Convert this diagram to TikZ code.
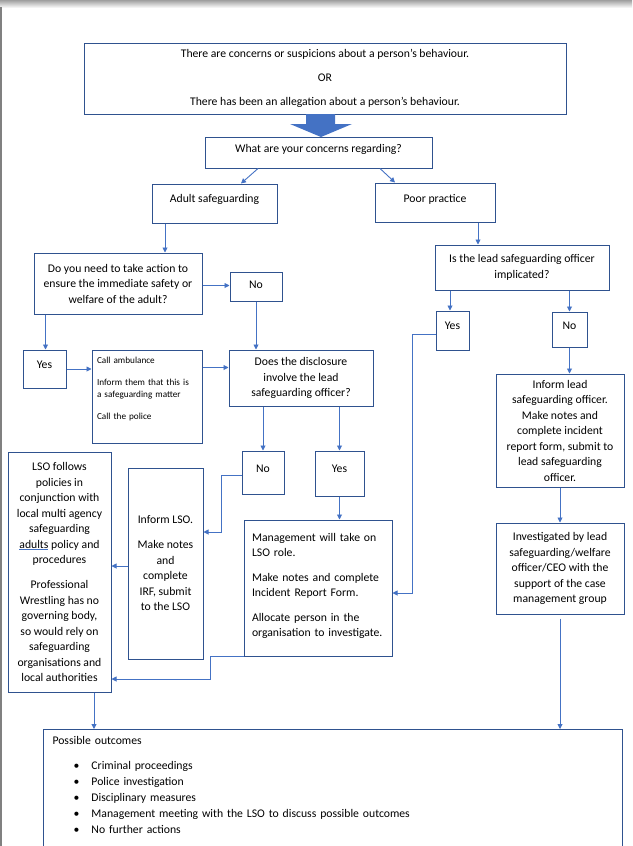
\documentclass[tikz,border=0pt]{standalone}
\usepackage{fontspec}
\setmainfont{Carlito}
\usepackage{xcolor}
\usetikzlibrary{arrows.meta,positioning}

\definecolor{boxblue}{HTML}{2F528F}
\definecolor{arrowblue}{HTML}{4472C4}
\newcommand{\outitem}[1]{\hspace*{21pt}\makebox[18pt][l]{\textbullet}#1}
\newcommand{\checkword}[1]{{\color{arrowblue}\underline{\color{black}#1}}}

\begin{document}
\begin{tikzpicture}[
  x=1pt, y=-1pt,
  font=\fontsize{11.7}{15.5}\selectfont,
  box/.style={draw=boxblue, line width=1pt, align=center, inner sep=0pt},
  tline/.style 2 args={box, text height=#1, text depth=#2},
  small/.style={font=\fontsize{9.2}{12}\selectfont},
  arrow/.style={-{Triangle[length=5pt, width=5pt]}, arrowblue, line width=0.9pt}
]
  \clip (0,0) rectangle (632,846);
  % page edge
  \shade[top color=gray!75, bottom color=white] (0,0) rectangle (632,8);
  \draw[gray, line width=1.5pt] (1,7) -- (1,846);

  % top of the chart
  \node[box, minimum width=482pt, minimum height=71pt] (event) at (325,78.5)
    {There are concerns or suspicions about a person’s behaviour.\\[8.5pt]
     OR\\[8.5pt]
     There has been an allegation about a person’s behaviour.};
  \fill[arrowblue] (306,114) -- (335,114) -- (335,124) -- (352,124) -- (321,137)
    -- (290,124) -- (306,124) -- cycle;
  \node[tline={15pt}{16pt}, minimum width=227pt] (concerns) at (318.5,152.5) {What are your concerns regarding?};

  % adult safeguarding branch
  \node[tline={18pt}{21pt}, minimum width=125pt] (adult) at (214.5,203.5) {Adult safeguarding};
  \node[box, minimum width=168pt, minimum height=61pt] (action) at (118,283.5)
    {Do you need to take action to\\ ensure the immediate safety or\\ welfare of the adult?};
  \node[tline={16pt}{13pt}, minimum width=52pt] (actno) at (256,286.5) {No};
  \node[tline={18pt}{20pt}, minimum width=43pt] (actyes) at (44.5,369) {Yes};
  \node[box, small, align=left, text width=100pt, inner xsep=5pt, text height=13.5pt, text depth=79.5pt] (call) at (147,396.5)
    {Call ambulance\\[10pt] Inform them that this is\\ a safeguarding matter\\[10pt] Call the police};
  \node[box, minimum width=144pt, minimum height=56pt] (disclose) at (301,378)
    {Does the disclosure\\ involve the lead\\ safeguarding officer?};
  \node[tline={21pt}{22pt}, minimum width=42pt] (discno) at (263,472.5) {No};
  \node[tline={21pt}{24pt}, minimum width=49pt] (discyes) at (339.5,473.5) {Yes};
  \node[box, align=left, text width=132pt, inner xsep=8pt, text height=21pt, text depth=115pt] (mgmt) at (318,588)
    {Management will take on\\ LSO role.\\[9pt] Make notes and complete\\ Incident Report Form.\\[9pt]
     Allocate person in the\\ organisation to investigate.};
  \node[box, minimum width=75pt, minimum height=191pt] (irf) at (165.5,563.5)
    {Inform LSO.\\[9.5pt] Make notes\\ and\\ complete\\ IRF, submit\\ to the LSO};
  \node[box, minimum width=103pt, minimum height=240pt] (lso) at (59.5,572)
    {LSO follows\\ policies in\\ conjunction with\\ local multi agency\\ safeguarding\\ \checkword{adults} policy and\\ procedures\\[9.5pt]
     Professional\\ Wrestling has no\\ governing body,\\ so would rely on\\ safeguarding\\ organisations and\\ local authorities};

  % poor practice branch
  \node[tline={19pt}{20pt}, minimum width=120pt] (poor) at (435,202.5) {Poor practice};
  \node[box, minimum width=174pt, minimum height=45pt] (implicated) at (522,267.5)
    {Is the lead safeguarding officer\\ implicated?};
  \node[tline={18pt}{21pt}, minimum width=33pt] (impyes) at (452.5,330.5) {Yes};
  \node[tline={17pt}{18pt}, minimum width=35pt] (impno) at (569.5,329.5) {No};
  \node[box, minimum width=128pt, minimum height=113pt] (inform) at (560,430.5)
    {Inform lead\\ safeguarding officer.\\ Make notes and\\ complete incident\\ report form, submit to\\ lead safeguarding\\ officer.};
  \node[box, minimum width=128pt, minimum height=91pt] (invest) at (560,568.5)
    {Investigated by lead\\ safeguarding/welfare\\ officer/CEO with the\\ support of the case\\ management group};

  % outcomes
  \node[box, anchor=north west, align=left, text width=561pt, inner xsep=9pt, text height=15pt, text depth=125pt] (outcomes) at (43,729)
    {Possible outcomes\\[9pt]
     \outitem{Criminal proceedings}\\[0.7pt]
     \outitem{Police investigation}\\[0.7pt]
     \outitem{Disciplinary measures}\\[0.7pt]
     \outitem{Management meeting with the LSO to discuss possible outcomes}\\[0.7pt]
     \outitem{No further actions}};

  \draw[arrow] ([xshift=-60.5pt]concerns.south) -- ([xshift=26.5pt]adult.north);
  \draw[arrow] ([xshift=61.5pt]concerns.south) -- ([xshift=-40pt]poor.north);
  \draw[arrow] ([xshift=-49.5pt]adult.south) -- ([xshift=-49.5pt]adult.south |- action.north);
  \draw[arrow] ([yshift=-2pt]action.east) -- ([yshift=-2pt]action.east -| actno.west);
  \draw[arrow] (actno.south) -- (actno.south |- disclose.north);
  \draw[arrow] ([xshift=12pt]action.south west) -- ([xshift=12pt]action.south west |- actyes.north);
  \draw[arrow] (actyes.east) -- (actyes.east -| call.west);
  \draw[arrow] ([yshift=-18pt]call.north east) -- ([yshift=-18pt]call.north east -| disclose.west);
  \draw[arrow] (discno.north |- disclose.south) -- (discno.north);
  \draw[arrow] (discyes.north |- disclose.south) -- (discyes.north);
  \draw[arrow] (discyes.south) -- (discyes.south |- mgmt.north);
  \draw[arrow] ([yshift=-2.5pt]discno.west) -- ++(-20,0) |- ([yshift=31.5pt]irf.east);
  \draw[arrow] ([yshift=-2.5pt]irf.west) -- ([yshift=-2.5pt]irf.west -| lso.east);
  \draw[arrow] (mgmt.south west) -- ++(-33,0) |- ([yshift=-107pt]lso.east);
  \draw[arrow] ([xshift=34.5pt]lso.south) -- ([xshift=34.5pt]lso.south |- outcomes.north);
  \draw[arrow] ([xshift=43pt]poor.south) -- ([xshift=43pt]poor.south |- implicated.north);
  \draw[arrow] ([xshift=-2.5pt]impyes.north |- implicated.south) -- ([xshift=-2.5pt]impyes.north);
  \draw[arrow] (impno.north |- implicated.south) -- (impno.north);
  \draw[arrow] ([yshift=-3.5pt]impyes.west) -- ++(-23,0) |- ([yshift=-5pt]mgmt.east);
  \draw[arrow] (impno.south) -- (impno.south |- inform.north);
  \draw[arrow] (inform.south) -- (invest.north);
  \draw[arrow] ([yshift=-4pt]invest.south) -- (invest.south |- outcomes.north);
\end{tikzpicture}
\end{document}
